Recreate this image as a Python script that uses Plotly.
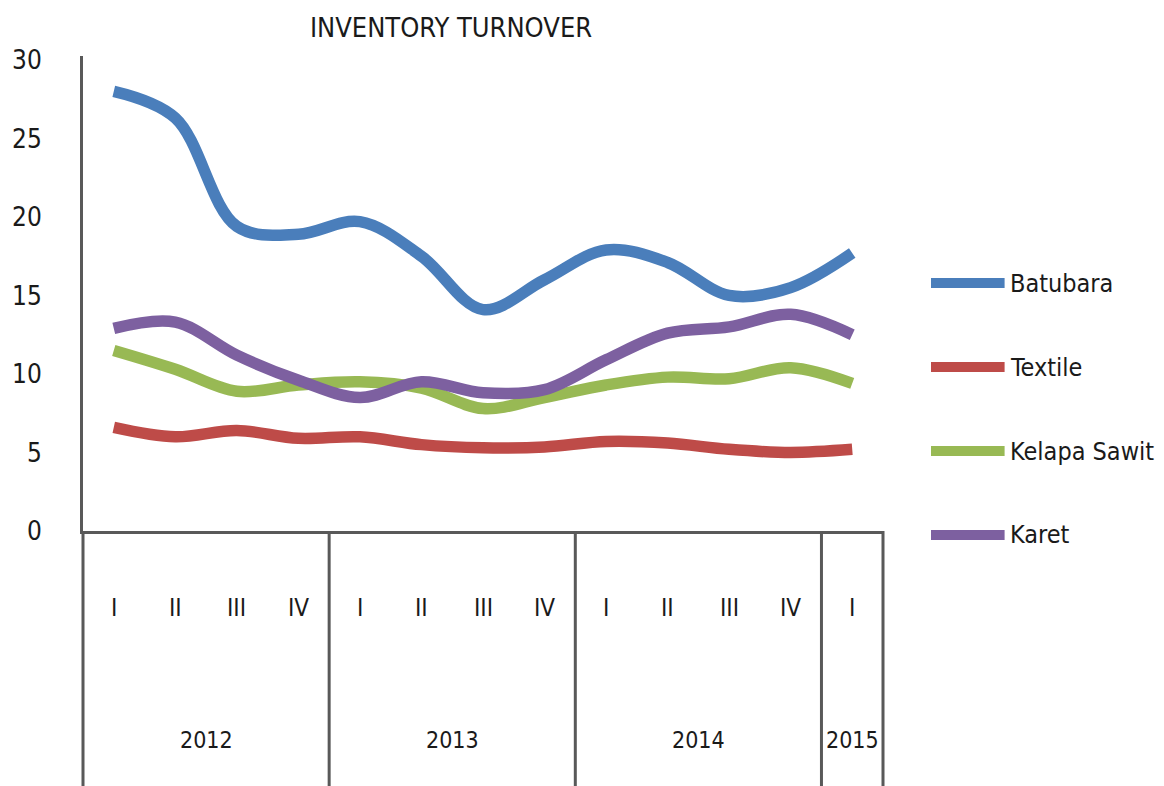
import plotly.graph_objects as go

# ---- data ----
years = ["2012", "2013", "2014", "2015"]
quarters_per_year = [4, 4, 4, 1]
quarter_labels = ["I", "II", "III", "IV", "I", "II", "III", "IV", "I", "II", "III", "IV", "I"]
series_names = ["Batubara", "Textile", "Kelapa Sawit", "Karet"]
batubara = [28.0, 26.3, 19.4, 18.9, 19.7, 17.5, 14.1, 16.0, 17.9, 17.1, 15.0, 15.5, 17.7]
textile = [6.6, 6.0, 6.4, 5.9, 6.0, 5.5, 5.3, 5.35, 5.7, 5.6, 5.2, 5.0, 5.2]
kelapa_sawit = [11.5, 10.3, 8.9, 9.3, 9.5, 9.1, 7.8, 8.5, 9.3, 9.8, 9.7, 10.4, 9.4]
karet = [12.9, 13.3, 11.2, 9.6, 8.5, 9.5, 8.8, 9.0, 10.9, 12.6, 13.0, 13.8, 12.5]
series_values = [batubara, textile, kelapa_sawit, karet]
colors = ["#4A7EBB", "#BE4B48", "#98B954", "#7D60A0"]
y_ticks = [0, 5, 10, 15, 20, 25, 30]

FONT = "Liberation Sans Narrow, DejaVu Sans Condensed, Arial Narrow, sans-serif"
AXIS_COLOR = "#595959"
TEXT_COLOR = "#1a1a1a"

n = len(quarter_labels)
xs = list(range(n))

fig = go.Figure()
for name, vals, col in zip(series_names, series_values, colors):
    fig.add_trace(go.Scatter(
        x=xs, y=vals, name=name, mode="lines",
        line=dict(color=col, width=11.5, shape="spline", smoothing=1.0),
        showlegend=False, hoverinfo="x+y+name",
    ))

shapes = []
annotations = []

# quarter labels
for i, q in enumerate(quarter_labels):
    annotations.append(dict(x=i, y=-0.162, xref="x", yref="paper", text=q,
                            showarrow=False, yanchor="middle", xanchor="center",
                            font=dict(family=FONT, size=24, color=TEXT_COLOR)))

# year labels and dividers
start = 0
bounds = [0]
for yr, cnt in zip(years, quarters_per_year):
    center = start + (cnt - 1) / 2
    annotations.append(dict(x=center, y=-0.44, xref="x", yref="paper", text=yr,
                            showarrow=False, yanchor="middle", xanchor="center",
                            font=dict(family=FONT, size=23, color=TEXT_COLOR)))
    start += cnt
    bounds.append(start)

for b in bounds:
    xp = b / n
    shapes.append(dict(type="line", xref="paper", yref="paper",
                       x0=xp, x1=xp, y0=0, y1=-0.56,
                       line=dict(color=AXIS_COLOR, width=3)))

# manual legend
leg_y0 = 0.522
leg_step = 0.1768
for k, (name, col) in enumerate(zip(series_names, colors)):
    yy = leg_y0 - k * leg_step
    shapes.append(dict(type="line", xref="paper", yref="paper",
                       x0=1.060, x1=1.152, y0=yy, y1=yy,
                       line=dict(color=col, width=10)))
    annotations.append(dict(x=1.156, y=yy, xref="paper", yref="paper", text=name,
                            showarrow=False, xanchor="left", yanchor="middle",
                            font=dict(family=FONT, size=25, color=TEXT_COLOR)))

fig.update_layout(
    width=1164, height=786,
    margin=dict(l=75, r=289, t=48, b=263, autoexpand=False),
    paper_bgcolor="white", plot_bgcolor="white",
    title=dict(text="INVENTORY TURNOVER", x=443 / 1164, xanchor="center",
               y=1 - 20 / 786, yanchor="middle", xref="container", yref="container",
               font=dict(family=FONT, size=27, color=TEXT_COLOR)),
    xaxis=dict(range=[-0.5, n - 0.5], showgrid=False, zeroline=False,
               showline=True, linecolor=AXIS_COLOR, linewidth=3,
               showticklabels=False, ticks="", automargin=False),
    yaxis=dict(range=[0, 30.25], tickvals=y_ticks, showgrid=False, zeroline=False,
               showline=True, linecolor=AXIS_COLOR, linewidth=3, ticks="",
               ticklabelstandoff=33, automargin=False,
               tickfont=dict(family=FONT, size=26, color=TEXT_COLOR)),
    shapes=shapes, annotations=annotations,
)

fig.write_html("out.html")
